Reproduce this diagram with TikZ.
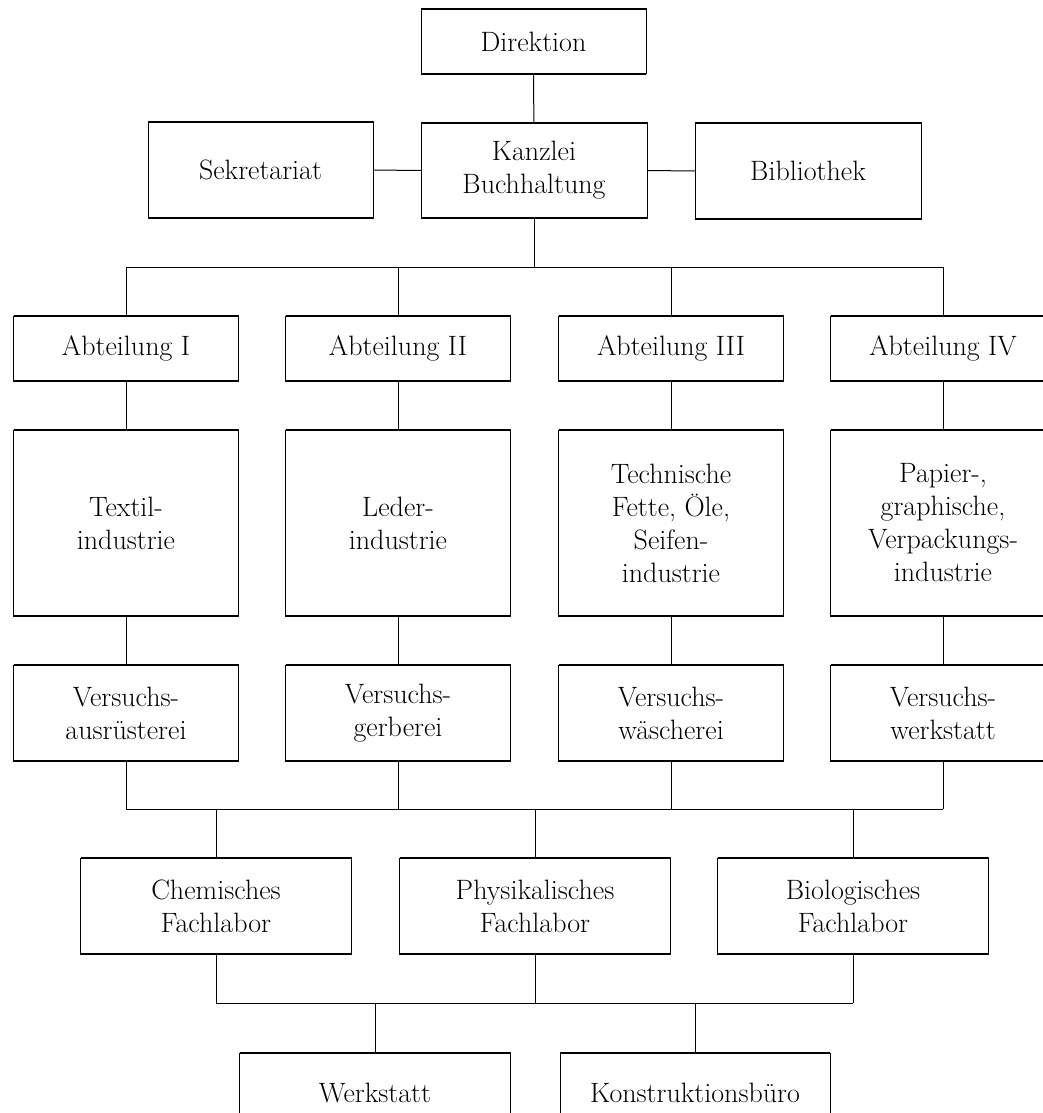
\documentclass[tikz,border=0pt]{standalone}
\usepackage{fontspec}
\begin{document}
\begin{tikzpicture}[x=1pt,y=-1pt,
  box/.style={draw, line width=1pt, align=center, inner sep=0pt, outer sep=0pt,
    font=\fontsize{28}{33}\selectfont,
    append after command={(\tikzlastnode.north west) edge[line width=2.2pt] (\tikzlastnode.north east)
      (\tikzlastnode.south west) edge[line width=2.2pt] (\tikzlastnode.south east)}},
  conn/.style={line width=1pt}]
\useasboundingbox (0,0) rectangle (1043,1113);
\clip (0,0) rectangle (1043,1113);
% top
\node[box, minimum width=225pt, minimum height=65pt] (dir) at (533.5,41.5) {Direktion};
\node[box, minimum width=225pt, minimum height=96pt] (sek) at (260.5,170) {Sekretariat};
\node[box, minimum width=226pt, minimum height=95pt] (kan) at (534,170.5) {Kanzlei\\Buchhaltung};
\node[box, minimum width=226pt, minimum height=96pt] (bib) at (808,171) {Bibliothek};
% Abteilungen
\foreach \n/\x/\t in {1/126/Abteilung I, 2/398/Abteilung II, 3/671/Abteilung III, 4/943/Abteilung IV}
  \node[box, minimum width=225pt, minimum height=65pt] (abt\n) at (\x,348.5) {\t};
\node[box, minimum width=225pt, minimum height=186pt] (ind1) at (126,523) {Textil-\\industrie};
\node[box, minimum width=225pt, minimum height=186pt] (ind2) at (398,523) {Leder-\\industrie};
\node[box, minimum width=225pt, minimum height=186pt] (ind3) at (671,523) {Technische\\Fette, Öle,\\Seifen-\\industrie};
\node[box, minimum width=225pt, minimum height=186pt] (ind4) at (943,523) {Papier-,\\graphische,\\Verpackungs-\\industrie};
\node[box, minimum width=225pt, minimum height=96pt] (ver1) at (126,713) {Versuchs-\\ausrüsterei};
\node[box, minimum width=225pt, minimum height=96pt] (ver2) at (398,713) {Versuchs-\\gerberei};
\node[box, minimum width=225pt, minimum height=96pt] (ver3) at (671,713) {Versuchs-\\wäscherei};
\node[box, minimum width=225pt, minimum height=96pt] (ver4) at (943,713) {Versuchs-\\werkstatt};
% labs
\node[box, minimum width=271pt, minimum height=96pt] (lab1) at (216,906) {Chemisches\\Fachlabor};
\node[box, minimum width=271pt, minimum height=96pt] (lab2) at (535,906) {Physikalisches\\Fachlabor};
\node[box, minimum width=271pt, minimum height=96pt] (lab3) at (853,906) {Biologisches\\Fachlabor};
% bottom
\node[box, minimum width=271pt, minimum height=80pt] (werk) at (375,1093) {Werkstatt};
\node[box, minimum width=270pt, minimum height=80pt] (konst) at (695,1093) {Konstruktionsbüro};
% bus coordinates
\coordinate (b1) at (0,267);
\coordinate (b2) at (0,809);
\coordinate (b3) at (0,1003);
% connectors
\draw[conn] (dir) -- (kan);
\draw[conn] (sek) -- (kan);
\draw[conn] (kan) -- (bib);
\draw[conn] (kan.south) -- (kan.south |- b1);
\draw[conn] (abt1.north |- b1) -- (abt4.north |- b1);
\foreach \n in {1,2,3,4}{
  \draw[conn] (abt\n.north |- b1) -- (abt\n.north);
  \draw[conn] (abt\n) -- (ind\n);
  \draw[conn] (ind\n) -- (ver\n);
  \draw[conn] (ver\n.south) -- (ver\n.south |- b2);
}
\draw[conn] (ver1.south |- b2) -- (ver4.south |- b2);
\foreach \n in {1,2,3}{
  \draw[conn] (lab\n.north |- b2) -- (lab\n.north);
  \draw[conn] (lab\n.south) -- (lab\n.south |- b3);
}
\draw[conn] (lab1.south |- b3) -- (lab3.south |- b3);
\draw[conn] (werk.north |- b3) -- (werk.north);
\draw[conn] (konst.north |- b3) -- (konst.north);
\end{tikzpicture}
\end{document}
